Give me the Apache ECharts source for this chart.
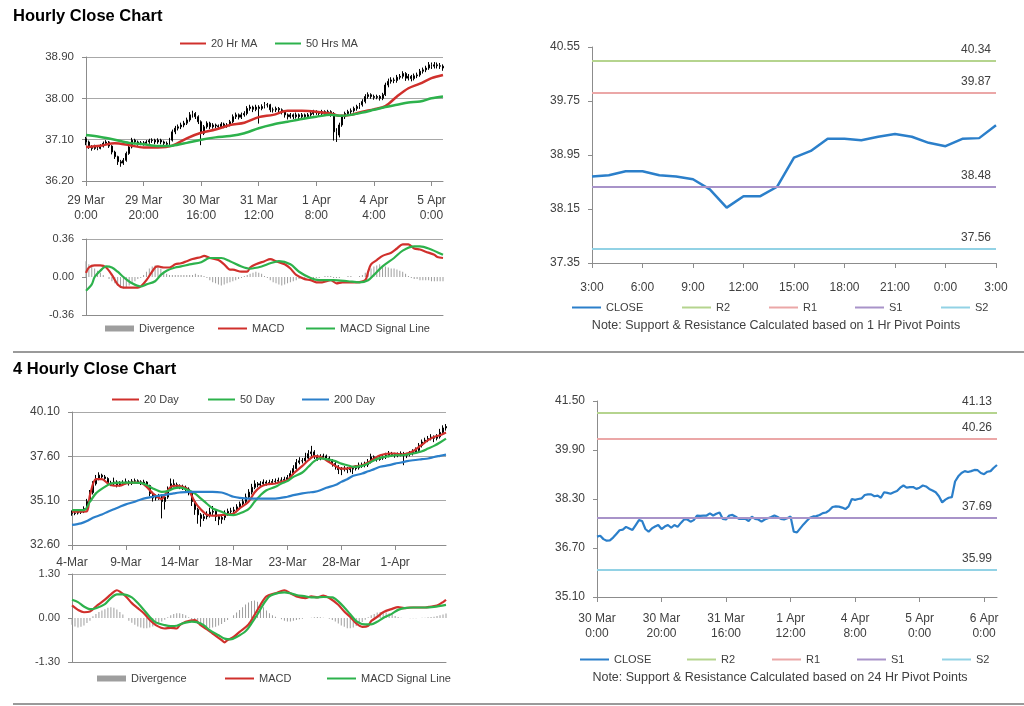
<!DOCTYPE html>
<html>
<head>
<meta charset="utf-8">
<script src="https://cdn.jsdelivr.net/npm/echarts@6.0.0/dist/echarts.min.js"></script>
<style>
html,body{margin:0;padding:0;background:#fff;}
#chart{width:1024px;height:706px;}
</style>
</head>
<body>
<div id="chart"></div>
<script>
// ---------- DATA ----------
// Hourly (top-left) tick labels, one every 20 bars
const h1Ticks = ['29 Mar\n0:00','29 Mar\n20:00','30 Mar\n16:00','31 Mar\n12:00','1 Apr\n8:00','4 Apr\n4:00','5 Apr\n0:00'];
// [open, close, low, high]
const h1Candles = [
[37.12,37.05,36.98,37.16],[37.05,36.94,36.90,37.08],[36.94,36.91,36.86,36.98],[36.91,36.94,36.88,36.99],[36.94,36.91,36.87,36.97],
[36.91,36.96,36.89,37.00],[36.96,37.02,36.93,37.06],[37.02,37.05,36.98,37.09],[37.05,36.96,36.92,37.07],[36.96,36.83,36.78,36.98],
[36.83,36.73,36.68,36.86],[36.73,36.62,36.55,36.75],[36.62,36.59,36.51,36.66],[36.59,36.65,36.55,36.70],[36.65,36.80,36.62,36.84],
[36.80,36.94,36.77,36.98],[36.94,37.09,36.91,37.14],[37.09,37.05,37.00,37.12],[37.05,37.02,36.97,37.08],[37.02,37.03,36.98,37.07],
[37.03,37.02,36.97,37.07],[37.02,37.05,36.99,37.09],[37.05,37.08,37.01,37.12],[37.08,37.09,37.03,37.13],[37.09,37.05,37.00,37.12],
[37.05,37.09,37.01,37.13],[37.09,37.05,37.00,37.12],[37.05,37.02,36.96,37.08],[37.02,37.00,36.95,37.06],[37.00,37.09,36.97,37.14],
[37.09,37.27,37.06,37.32],[37.27,37.35,37.22,37.40],[37.35,37.38,37.30,37.43],[37.38,37.42,37.33,37.47],[37.42,37.46,37.37,37.51],
[37.46,37.53,37.42,37.58],[37.53,37.64,37.49,37.70],[37.64,37.67,37.58,37.73],[37.67,37.60,37.55,37.70],[37.60,37.49,37.44,37.63],
[37.49,37.24,36.98,37.52],[37.24,37.38,37.20,37.42],[37.38,37.46,37.34,37.50],[37.46,37.38,37.33,37.49],[37.38,37.42,37.34,37.46],
[37.42,37.40,37.35,37.45],[37.40,37.38,37.33,37.43],[37.38,37.44,37.35,37.48],[37.44,37.40,37.35,37.47],[37.40,37.42,37.36,37.46],
[37.42,37.49,37.39,37.53],[37.49,37.60,37.46,37.65],[37.60,37.64,37.55,37.69],[37.64,37.59,37.54,37.67],[37.59,37.64,37.55,37.69],
[37.64,37.67,37.60,37.72],[37.67,37.78,37.63,37.83],[37.78,37.81,37.73,37.86],[37.81,37.76,37.70,37.84],[37.76,37.81,37.72,37.86],
[37.81,37.78,37.45,37.85],[37.78,37.82,37.74,37.87],[37.82,37.86,37.78,37.92],[37.86,37.86,37.80,37.90],[37.86,37.75,37.70,37.88],
[37.75,37.75,37.69,37.80],[37.75,37.78,37.70,37.82],[37.78,37.75,37.69,37.81],[37.75,37.71,37.65,37.78],[37.71,37.64,37.58,37.74],
[37.64,37.60,37.54,37.67],[37.60,37.64,37.56,37.68],[37.64,37.60,37.55,37.67],[37.60,37.64,37.56,37.69],[37.64,37.60,37.53,37.67],
[37.60,37.64,37.56,37.68],[37.64,37.60,37.55,37.67],[37.60,37.64,37.56,37.68],[37.64,37.67,37.60,37.71],[37.67,37.71,37.63,37.75],
[37.71,37.69,37.64,37.74],[37.69,37.67,37.62,37.72],[37.67,37.71,37.63,37.75],[37.71,37.67,37.62,37.74],[37.67,37.71,37.63,37.75],
[37.71,37.67,37.60,37.74],[37.67,37.27,37.08,37.70],[37.27,37.20,37.05,37.35],[37.20,37.42,37.15,37.47],[37.42,37.60,37.38,37.64],
[37.60,37.67,37.55,37.71],[37.67,37.71,37.62,37.75],[37.71,37.73,37.66,37.78],[37.73,37.78,37.69,37.82],[37.78,37.82,37.73,37.86],
[37.82,37.86,37.77,37.90],[37.86,37.93,37.82,37.98],[37.93,38.04,37.89,38.09],[38.04,38.08,37.99,38.13],[38.08,38.04,37.99,38.11],
[38.04,38.02,37.97,38.08],[38.02,38.04,37.98,38.08],[38.04,38.00,37.95,38.07],[38.00,38.08,37.96,38.12],[38.08,38.29,38.05,38.34],
[38.29,38.37,38.24,38.43],[38.37,38.40,38.32,38.46],[38.40,38.39,38.33,38.45],[38.39,38.46,38.34,38.51],[38.46,38.48,38.41,38.53],
[38.48,38.54,38.43,38.59],[38.54,38.44,38.38,38.57],[38.44,38.48,38.39,38.53],[38.48,38.43,38.37,38.51],[38.43,38.49,38.39,38.54],
[38.49,38.51,38.44,38.56],[38.51,38.59,38.47,38.64],[38.59,38.62,38.54,38.67],[38.62,38.66,38.57,38.71],[38.66,38.73,38.62,38.79],
[38.73,38.70,38.64,38.78],[38.70,38.73,38.65,38.79],[38.73,38.71,38.65,38.78],[38.71,38.70,38.64,38.77],[38.70,38.66,38.60,38.74]
];
// [bar index, value]
const h1Ma20 = [[0,36.94],[5,36.97],[10,37.02],[15,36.98],[20,36.93],[25,36.93],[30,36.97],[35,37.13],[40,37.25],[45,37.32],[50,37.42],[55,37.47],[60,37.59],[65,37.64],[70,37.73],[75,37.73],[80,37.71],[85,37.67],[88,37.62],[92,37.64],[96,37.71],[100,37.76],[104,37.83],[108,38.04],[112,38.22],[116,38.32],[120,38.44],[124,38.51]];
const h1Ma50 = [[0,37.20],[5,37.16],[10,37.10],[15,37.03],[20,37.00],[25,36.96],[30,36.97],[35,37.03],[40,37.10],[45,37.15],[50,37.18],[55,37.24],[60,37.35],[65,37.43],[70,37.49],[75,37.55],[80,37.60],[85,37.64],[88,37.62],[92,37.64],[96,37.69],[100,37.75],[104,37.81],[108,37.86],[112,37.91],[116,37.93],[120,38.00],[124,38.04]];
const h1Macd = [[0,0.04],[1,0.09],[3,0.11],[5,0.11],[7,0.09],[9,0.02],[11,-0.07],[13,-0.10],[15,-0.10],[18,-0.10],[19,-0.09],[21,-0.03],[24,0.09],[25,0.10],[27,0.09],[29,0.09],[31,0.12],[33,0.13],[35,0.15],[37,0.17],[40,0.19],[41,0.20],[43,0.18],[46,0.16],[48,0.12],[50,0.07],[51,0.07],[54,0.05],[56,0.05],[57,0.09],[59,0.12],[62,0.15],[64,0.17],[66,0.15],[69,0.12],[71,0.08],[73,0.02],[76,-0.02],[78,-0.03],[80,-0.05],[82,-0.05],[85,-0.03],[87,-0.06],[89,-0.05],[92,-0.05],[94,-0.05],[97,-0.03],[98,0.05],[99,0.12],[101,0.16],[103,0.20],[106,0.23],[108,0.27],[110,0.31],[112,0.31],[114,0.27],[116,0.26],[118,0.24],[121,0.21],[122,0.19],[124,0.18]];
const h1Signal = [[0,-0.13],[2,-0.07],[3,0.00],[5,0.06],[7,0.10],[9,0.09],[11,0.05],[13,0.00],[16,-0.06],[19,-0.09],[21,-0.07],[24,-0.04],[26,0.02],[28,0.06],[31,0.09],[33,0.10],[36,0.12],[40,0.14],[43,0.18],[47,0.18],[50,0.15],[54,0.10],[57,0.08],[61,0.10],[64,0.13],[67,0.15],[71,0.12],[74,0.05],[78,-0.01],[81,-0.03],[86,-0.03],[91,-0.04],[95,-0.05],[98,-0.03],[100,0.02],[103,0.10],[107,0.18],[110,0.25],[114,0.29],[116,0.29],[119,0.27],[124,0.21]];
const h1Div = [
0.15,0.12,0.10,0.08,0.06, 0.04,0.02,0.00,-0.02,-0.04, -0.06,-0.08,-0.10,-0.11,-0.10, -0.08,-0.06,-0.04,-0.02,-0.01,
0.02,0.05,0.08,0.10,0.11, 0.10,0.08,0.05,0.03,0.02, 0.02,0.02,0.02,0.02,0.02, 0.02,0.02,0.02,0.03,0.02,
0.02,0.01,-0.01,-0.03,-0.05, -0.06,-0.07,-0.08,-0.07,-0.06, -0.05,-0.04,-0.03,-0.02,-0.01, 0.01,0.02,0.03,0.04,0.05,
0.04,0.03,0.01,-0.01,-0.03, -0.05,-0.06,-0.07,-0.08,-0.07, -0.06,-0.05,-0.04,-0.03,-0.02, -0.01,-0.01,0.00,0.00,-0.01,
-0.01,-0.01,0.00,0.01,0.01, 0.01,-0.01,-0.01,-0.01,0.00, 0.00,0.01,0.01,0.00,0.00, 0.01,0.02,0.04,0.06,0.08,
0.10,0.11,0.12,0.11,0.10, 0.09,0.08,0.08,0.07,0.06, 0.05,0.03,0.01,-0.01,-0.02, -0.02,-0.03,-0.03,-0.03,-0.03,
-0.04,-0.04,-0.04,-0.04,-0.04
];

// Hourly pivot chart (top-right)
const h1Hours = ['3:00','4:00','5:00','6:00','7:00','8:00','9:00','10:00','11:00','12:00','13:00','14:00','15:00','16:00','17:00','18:00','19:00','20:00','21:00','22:00','23:00','0:00','1:00','2:00','3:00'];
const h1Close = [38.63,38.65,38.71,38.71,38.65,38.63,38.59,38.44,38.17,38.34,38.34,38.48,38.91,39.01,39.19,39.19,39.17,39.22,39.26,39.22,39.13,39.08,39.19,39.20,39.39];
const levelNames = ['R2','R1','S1','S2'];
const h1Levels = [40.34, 39.87, 38.48, 37.56];

// 4-hourly (bottom-left) tick labels, one every 18 bars
const h4Ticks = ['4-Mar','9-Mar','14-Mar','18-Mar','23-Mar','28-Mar','1-Apr'];
const h4Candles = [
[34.45,34.38,34.25,34.55],[34.38,34.40,34.28,34.52],[34.40,34.45,34.32,34.55],[34.45,34.48,34.35,34.58],[34.48,34.65,34.40,34.78],
[34.65,35.05,34.60,35.20],[35.05,35.55,34.98,35.70],[35.55,36.05,35.45,36.20],[36.05,36.35,35.95,36.55],[36.35,36.54,36.25,36.70],
[36.54,36.44,36.30,36.62],[36.44,36.35,36.20,36.55],[36.35,36.10,35.98,36.42],[36.10,36.05,35.92,36.22],[36.05,36.15,35.95,36.40],
[36.15,35.98,35.85,36.25],[35.98,36.07,35.90,36.20],[36.07,36.12,35.98,36.25],[36.12,36.16,36.02,36.35],[36.16,36.07,35.95,36.25],
[36.07,36.20,35.98,36.32],[36.20,36.22,36.08,36.35],[36.22,36.16,36.05,36.30],[36.16,36.10,35.98,36.25],[36.10,36.15,36.00,36.28],
[36.15,35.95,35.82,36.20],[35.95,35.50,35.35,36.00],[35.50,35.25,35.05,35.60],[35.25,35.30,35.10,35.45],[35.30,35.32,35.15,35.48],
[35.32,35.05,34.10,35.40],[35.05,35.30,34.60,35.45],[35.30,35.75,35.20,35.90],[35.75,36.05,35.65,36.35],[36.05,36.00,35.85,36.30],
[36.00,35.90,35.78,36.12],[35.90,35.88,35.75,36.02],[35.88,35.85,35.70,36.00],[35.85,35.75,35.60,35.95],[35.75,35.55,35.40,35.85],
[35.55,35.05,34.80,35.62],[35.05,34.60,34.30,35.15],[34.60,34.30,33.80,34.70],[34.30,34.10,33.63,34.40],[34.10,34.20,33.95,34.35],
[34.20,34.30,34.05,34.50],[34.30,34.45,34.15,34.70],[34.45,34.50,34.30,34.80],[34.50,34.20,33.95,34.60],[34.20,34.05,33.72,34.30],
[34.05,34.15,33.80,34.30],[34.15,34.40,34.00,34.55],[34.40,34.50,34.25,34.65],[34.50,34.52,34.35,34.70],[34.52,34.58,34.40,34.75],
[34.58,34.75,34.45,34.90],[34.75,34.92,34.60,35.05],[34.92,35.05,34.80,35.25],[35.05,35.30,34.95,35.50],[35.30,35.58,35.20,35.75],
[35.58,35.85,35.45,36.05],[35.85,36.05,35.75,36.25],[36.05,35.98,35.85,36.15],[35.98,36.05,35.88,36.20],[36.05,36.15,35.95,36.30],
[36.15,36.08,35.95,36.25],[36.08,36.12,35.98,36.28],[36.12,36.18,36.02,36.32],[36.18,36.20,36.05,36.35],[36.20,36.25,36.10,36.40],
[36.25,36.26,36.12,36.42],[36.26,36.30,36.15,36.45],[36.30,36.40,36.20,36.55],[36.40,36.63,36.30,36.80],[36.63,36.91,36.55,37.10],
[36.91,37.25,36.85,37.45],[37.25,37.35,37.15,37.55],[37.35,37.35,37.20,37.50],[37.35,37.50,37.25,37.80],[37.50,37.75,37.40,37.95],
[37.75,37.85,37.60,38.19],[37.85,37.62,37.45,37.95],[37.62,37.48,37.35,37.70],[37.48,37.55,37.38,37.72],[37.55,37.62,37.45,37.75],
[37.62,37.50,37.35,37.70],[37.50,37.38,37.22,37.60],[37.38,37.19,37.02,37.45],[37.19,37.05,36.85,37.30],[37.05,36.85,36.60,37.10],
[36.85,36.88,36.54,37.00],[36.88,36.92,36.75,37.05],[36.92,36.85,36.65,37.00],[36.85,36.88,36.70,37.02],[36.88,36.91,36.60,37.05],
[36.91,36.95,36.80,37.10],[36.95,37.10,36.85,37.25],[37.10,37.10,36.95,37.25],[37.10,37.12,36.98,37.30],[37.12,37.29,37.00,37.45],
[37.29,37.57,37.20,37.75],[37.57,37.45,37.32,37.65],[37.45,37.42,37.30,37.60],[37.42,37.50,37.35,37.65],[37.50,37.57,37.40,37.72],
[37.57,37.66,37.45,37.80],[37.66,37.76,37.55,37.90],[37.76,37.70,37.58,37.85],[37.70,37.66,37.52,37.80],[37.66,37.70,37.55,37.82],
[37.70,37.76,37.60,37.88],[37.76,37.66,37.10,37.85],[37.66,37.70,37.50,37.80],[37.70,37.76,37.60,37.90],[37.76,37.85,37.65,38.00],
[37.85,37.94,37.75,38.10],[37.94,38.22,37.85,38.35],[38.22,38.41,38.10,38.55],[38.41,38.51,38.30,38.65],[38.51,38.60,38.40,38.75],
[38.60,38.69,38.50,38.85],[38.69,38.62,38.40,38.78],[38.62,38.70,38.50,38.85],[38.70,38.95,38.60,39.15],[38.95,39.20,38.85,39.35],
[39.20,39.28,39.05,39.42]
];
const h4Ma20 = [[0,34.48],[3,34.48],[5,34.50],[6,35.41],[8,36.31],[10,36.31],[12,36.07],[14,35.94],[16,35.94],[18,36.07],[21,36.12],[23,36.10],[25,35.88],[27,35.51],[30,35.19],[31,35.41],[33,35.88],[35,35.94],[37,35.88],[39,35.69],[41,35.04],[43,34.62],[45,34.32],[47,34.25],[50,34.29],[52,34.32],[54,34.38],[56,34.66],[59,35.04],[61,35.56],[63,35.88],[65,36.01],[68,36.07],[70,36.16],[72,36.26],[74,36.63],[77,37.06],[79,37.38],[81,37.61],[83,37.57],[85,37.38],[88,37.06],[90,36.91],[92,36.91],[94,37.01],[97,37.10],[99,37.25],[101,37.48],[103,37.66],[106,37.76],[108,37.76],[110,37.70],[112,37.76],[114,37.89],[117,38.26],[119,38.51],[121,38.69],[123,38.79],[125,38.94]];
const h4Ma50 = [[0,34.57],[4,34.57],[6,35.04],[8,35.51],[11,35.88],[13,36.07],[16,36.12],[20,36.12],[23,36.10],[25,35.98],[27,35.79],[30,35.60],[32,35.64],[34,35.79],[36,35.83],[38,35.75],[41,35.51],[43,35.23],[45,34.94],[47,34.66],[50,34.48],[52,34.32],[54,34.29],[56,34.38],[59,34.62],[61,35.04],[63,35.41],[65,35.69],[68,35.88],[70,36.07],[72,36.20],[74,36.44],[77,36.69],[79,37.01],[81,37.33],[83,37.48],[85,37.44],[88,37.33],[90,37.19],[92,37.10],[94,37.01],[97,37.06],[99,37.19],[101,37.38],[103,37.51],[106,37.61],[108,37.66],[110,37.66],[112,37.70],[114,37.76],[117,37.89],[119,38.04],[121,38.19],[123,38.38],[125,38.60]];
const h4Ma200 = [[0,33.73],[3,33.82],[5,33.95],[7,34.14],[10,34.32],[12,34.48],[14,34.62],[16,34.76],[18,34.89],[21,35.04],[23,35.17],[25,35.26],[27,35.32],[30,35.41],[32,35.45],[34,35.51],[36,35.56],[39,35.60],[43,35.60],[47,35.60],[50,35.56],[52,35.45],[54,35.32],[56,35.26],[59,35.22],[63,35.22],[68,35.22],[72,35.32],[74,35.41],[77,35.51],[79,35.56],[81,35.60],[83,35.69],[85,35.83],[88,35.98],[90,36.16],[92,36.31],[94,36.50],[97,36.63],[99,36.76],[101,36.88],[103,37.01],[106,37.10],[108,37.19],[110,37.25],[112,37.33],[114,37.38],[117,37.44],[119,37.48],[121,37.56],[123,37.63],[125,37.70]];
const h4Macd = [[0,0.37],[2,0.24],[4,0.17],[6,0.19],[8,0.34],[11,0.54],[13,0.70],[15,0.82],[16,0.78],[18,0.64],[20,0.44],[22,0.29],[24,0.14],[26,-0.06],[28,-0.21],[31,-0.31],[33,-0.29],[35,-0.31],[36,-0.21],[38,-0.11],[41,-0.06],[43,-0.21],[45,-0.33],[47,-0.46],[50,-0.65],[51,-0.72],[52,-0.65],[54,-0.56],[56,-0.41],[59,-0.19],[61,0.09],[63,0.39],[65,0.64],[68,0.73],[70,0.80],[71,0.82],[73,0.73],[75,0.64],[78,0.59],[80,0.64],[82,0.61],[84,0.66],[86,0.59],[89,0.39],[91,0.19],[93,0.03],[95,-0.16],[97,-0.26],[99,-0.23],[100,-0.09],[102,0.03],[104,0.17],[107,0.27],[109,0.32],[111,0.29],[113,0.31],[115,0.31],[118,0.31],[120,0.34],[122,0.37],[124,0.47],[125,0.54]];
const h4Signal = [[0,0.54],[2,0.47],[4,0.34],[6,0.26],[8,0.29],[11,0.41],[13,0.59],[15,0.70],[17,0.70],[20,0.61],[22,0.44],[24,0.24],[26,0.03],[28,-0.13],[31,-0.21],[33,-0.24],[35,-0.23],[37,-0.16],[40,-0.11],[42,-0.13],[44,-0.21],[46,-0.36],[49,-0.51],[51,-0.61],[53,-0.63],[55,-0.56],[58,-0.39],[60,-0.16],[62,0.11],[64,0.41],[66,0.64],[69,0.74],[71,0.76],[73,0.73],[75,0.68],[78,0.64],[80,0.61],[82,0.61],[84,0.62],[87,0.61],[89,0.49],[91,0.31],[93,0.11],[95,-0.09],[98,-0.19],[100,-0.19],[102,-0.11],[104,0.00],[107,0.13],[109,0.24],[111,0.29],[114,0.31],[118,0.31],[121,0.33],[125,0.39]];
const h4Div = [
-0.20,-0.25,-0.28,-0.26,-0.22,-0.15,-0.08,
0.05,0.12,0.18,0.22,0.26,0.30,
0.32,0.30,0.25,0.18,0.10,
0.00,-0.08,-0.14,-0.20,-0.25,-0.28,-0.30,-0.30,-0.28,-0.25,-0.20,-0.15,-0.10,
-0.05,0.02,0.08,0.12,0.14,0.14,0.12,0.08,0.02,-0.05,
-0.12,-0.18,-0.22,-0.26,-0.28,-0.30,-0.28,-0.26,-0.22,-0.18,-0.12,-0.06,0.00,
0.08,0.16,0.24,0.32,0.40,0.46,0.50,0.52,0.48,0.40,0.32,0.22,0.14,0.08,0.04,
0.00,-0.04,-0.08,-0.10,-0.10,-0.08,-0.06,-0.04,-0.02,0.00,
0.00,0.01,0.02,0.03,0.02,0.01,0.00,-0.02,
-0.06,-0.10,-0.16,-0.22,-0.26,-0.30,-0.30,-0.28,-0.24,-0.18,-0.12,-0.05,
0.02,0.08,0.12,0.16,0.18,0.18,0.16,0.14,0.10,0.06,0.03,0.01,
0.00,0.00,-0.01,-0.01,-0.01,0.00,0.01,0.01,0.02,0.03,0.04,0.06,0.08,0.10,0.13
];

// 24-hr pivot chart (bottom-right), tick labels every 20 points
const h24Ticks = ['30 Mar\n0:00','30 Mar\n20:00','31 Mar\n16:00','1 Apr\n12:00','4 Apr\n8:00','5 Apr\n0:00','6 Apr\n0:00'];
const h24Close = [
37.07,37.10,36.99,36.94,36.95,37.04,37.16,37.28,37.30,37.39,
37.34,37.29,37.45,37.61,37.58,37.32,37.23,37.34,37.40,37.45,
37.32,37.40,37.45,37.36,37.45,37.39,37.52,37.63,37.63,37.56,
37.61,37.76,37.75,37.76,37.76,37.83,37.76,37.82,37.86,37.65,
37.63,37.76,37.78,37.72,37.65,37.65,37.65,37.58,37.72,37.65,
37.63,37.56,37.63,37.67,37.71,37.76,37.71,37.65,37.63,37.67,
37.73,37.23,37.21,37.34,37.47,37.58,37.69,37.73,37.74,37.78,
37.84,37.86,37.93,38.04,38.06,38.05,38.02,37.97,38.06,38.30,
38.27,38.30,38.32,38.43,38.45,38.45,38.39,38.41,38.34,38.52,
38.50,38.47,38.52,38.56,38.67,38.74,38.67,38.69,38.69,38.63,
38.67,38.74,38.71,38.63,38.58,38.52,38.39,38.19,38.28,38.34,
38.36,38.87,39.04,39.15,39.21,39.18,39.21,39.25,39.24,39.15,
39.11,39.19,39.21,39.32,39.41
];
const h24Levels = [41.13, 40.26, 37.69, 35.99];

// ---------- STYLE ----------
const FONT = "'Liberation Sans', Arial, sans-serif";
const TXT = '#404040';
const AXC = '#8c8c8c';
const SPLIT = '#a8a8a8';
const RED = '#d0302c', GREEN = '#2db24c', BLUE = '#2b7fca', DIVC = '#9e9e9e';
const levelColors = ['#b5d48e', '#eba7a7', '#a893c9', '#92d2e5'];

const idx = n => Array.from({length: n}, (_, i) => i);

function catAxis(grid, n, opt) {
  return Object.assign({
    type: 'category', gridIndex: grid, data: idx(n), boundaryGap: false,
    axisLine: {show: true, onZero: false, lineStyle: {color: AXC, width: 1}},
    axisTick: {show: false}, axisLabel: {show: false}, splitLine: {show: false}
  }, opt);
}
function tickLabels(step, labels, size, margin) {
  return {
    axisTick: {show: true, interval: step - 1, length: 5, lineStyle: {color: AXC}},
    axisLabel: {show: true, interval: step - 1, color: TXT, fontSize: size, fontFamily: FONT,
      margin: margin, lineHeight: size + 3,
      formatter: (v, i) => labels(i)}
  };
}
function valAxis(grid, min, max, interval, size, split) {
  return {
    type: 'value', gridIndex: grid, min: min, max: max, interval: interval,
    axisLine: {show: true, lineStyle: {color: AXC, width: 1}},
    axisTick: {show: true, length: 4, lineStyle: {color: AXC}},
    axisLabel: {color: TXT, fontSize: size, fontFamily: FONT, margin: 12, formatter: v => v.toFixed(2)},
    splitLine: split ? {show: true, lineStyle: {color: split, width: 1}} : {show: false}
  };
}
function lineSeries(name, x, y, data, color, width, smooth) {
  return {name: name, type: 'line', xAxisIndex: x, yAxisIndex: y, data: data, symbol: 'none',
    smooth: smooth, color: color, lineStyle: {color: color, width: width}, silent: true};
}
function candles(x, y, data) {
  return {type: 'candlestick', xAxisIndex: x, yAxisIndex: y, data: data, barMaxWidth: 3, silent: true,
    itemStyle: {color: '#000', color0: '#000', borderColor: '#000', borderColor0: '#000', borderWidth: 1}};
}
function divSeries(x, y, data) {
  return {name: 'Divergence', type: 'bar', xAxisIndex: x, yAxisIndex: y, data: data, barWidth: 1,
    color: DIVC, itemStyle: {color: DIVC}, silent: true};
}
function levelSeries(x, y, values) {
  return levelNames.map((nm, k) => ({
    name: nm, type: 'line', xAxisIndex: x, yAxisIndex: y, data: [], symbol: 'none',
    color: levelColors[k], lineStyle: {color: levelColors[k], width: 2},
    markLine: {
      silent: true, symbol: 'none', animation: false,
      lineStyle: {color: levelColors[k], width: 2, type: 'solid'},
      label: {show: true, position: 'insideEndTop', color: TXT, fontSize: 12, fontFamily: FONT,
        formatter: p => Number(p.value).toFixed(2)},
      data: [{yAxis: values[k]}]
    }
  }));
}
// one legend component per item, so each item sits where the reference puts it
function legendItem(name, left, cy, iw, ih) {
  return {left: left, top: cy - 5, padding: 0, itemWidth: iw, itemHeight: ih, itemGap: 0,
    textStyle: {color: TXT, fontSize: 11, fontFamily: FONT}, selectedMode: false,
    data: [{name: name, icon: 'rect'}]};
}
function legendRow(names, lefts, cy, iw) {
  return names.map((n, k) => legendItem(n, lefts[k], cy, iw, n === 'Divergence' ? 6 : 2));
}
function text(x, y, str, size, bold, align) {
  return {type: 'text', x: x, y: y, style: {text: str, fill: bold ? '#000' : TXT,
    font: (bold ? 'bold ' : '') + size + 'px ' + FONT, textAlign: align || 'left', textVerticalAlign: 'middle'}};
}

const option = {
  animation: false,
  backgroundColor: '#fff',
  grid: [
    {left: 86, top: 57, width: 357, height: 124},
    {left: 86, top: 239, width: 357, height: 76},
    {left: 592, top: 47, width: 404, height: 216},
    {left: 72, top: 412, width: 374, height: 133},
    {left: 72, top: 574, width: 374, height: 88},
    {left: 597, top: 401, width: 400, height: 196}
  ],
  xAxis: [
    catAxis(0, h1Candles.length, tickLabels(20, i => h1Ticks[i / 20], 12, 12)),
    catAxis(1, h1Candles.length, {}),
    catAxis(2, h1Hours.length, tickLabels(3, i => h1Hours[i], 12, 17)),
    catAxis(3, h4Candles.length, tickLabels(18, i => h4Ticks[i / 18], 12, 10)),
    catAxis(4, h4Candles.length, {}),
    catAxis(5, h24Close.length, tickLabels(20, i => h24Ticks[i / 20], 12, 14))
  ],
  yAxis: [
    valAxis(0, 36.2, 38.9, 0.9, 11.5, SPLIT),
    Object.assign(valAxis(1, -0.36, 0.36, 0.36, 11, null),
      {splitLine: {show: true, lineStyle: {color: [SPLIT, 'rgba(0,0,0,0)', SPLIT], width: 1}}}),
    valAxis(2, 37.35, 40.55, 0.8, 12, null),
    valAxis(3, 32.6, 40.1, 2.5, 12, SPLIT),
    Object.assign(valAxis(4, -1.3, 1.3, 1.3, 11, null),
      {splitLine: {show: true, lineStyle: {color: [SPLIT, 'rgba(0,0,0,0)', SPLIT], width: 1}}}),
    valAxis(5, 35.1, 41.5, 1.6, 12, null)
  ],
  legend: [
    ...legendRow(['20 Hr MA', '50 Hrs MA'], [180, 275], 43, 26),
    ...legendRow(['Divergence', 'MACD', 'MACD Signal Line'], [105, 218, 306], 328, 29),
    ...legendRow(['CLOSE', 'R2', 'R1', 'S1', 'S2'], [572, 682, 769, 855, 941], 307, 29),
    ...legendRow(['20 Day', '50 Day', '200 Day'], [112, 208, 302], 399, 27),
    ...legendRow(['Divergence', 'MACD', 'MACD Signal Line'], [97, 225, 327], 678, 29),
    ...legendRow(['CLOSE', 'R2', 'R1', 'S1', 'S2'], [580, 687, 772, 857, 942], 659, 29)
  ],
  graphic: [
    text(13, 16, 'Hourly Close Chart', 16.5, true),
    text(13, 369, '4 Hourly Close Chart', 16.5, true),
    text(776, 326, 'Note: Support & Resistance Calculated based on 1 Hr Pivot Points', 12.5, false, 'center'),
    text(780, 678, 'Note: Support & Resistance Calculated based on 24 Hr Pivot Points', 12.5, false, 'center'),
    {type: 'line', shape: {x1: 13, y1: 352, x2: 1024, y2: 352}, style: {stroke: '#9a9a9a', lineWidth: 2}},
    {type: 'line', shape: {x1: 13, y1: 704, x2: 1024, y2: 704}, style: {stroke: '#9a9a9a', lineWidth: 2}}
  ],
  series: [
    candles(0, 0, h1Candles),
    lineSeries('20 Hr MA', 0, 0, h1Ma20, RED, 2.5, 0.3),
    lineSeries('50 Hrs MA', 0, 0, h1Ma50, GREEN, 2.5, 0.3),
    divSeries(1, 1, h1Div),
    lineSeries('MACD', 1, 1, h1Macd, RED, 2.2, 0.3),
    lineSeries('MACD Signal Line', 1, 1, h1Signal, GREEN, 2.2, 0.3),
    lineSeries('CLOSE', 2, 2, h1Close, BLUE, 2.5, false),
    ...levelSeries(2, 2, h1Levels),
    candles(3, 3, h4Candles),
    lineSeries('20 Day', 3, 3, h4Ma20, RED, 2.2, 0.3),
    lineSeries('50 Day', 3, 3, h4Ma50, GREEN, 2.2, 0.3),
    lineSeries('200 Day', 3, 3, h4Ma200, BLUE, 2.2, 0.3),
    divSeries(4, 4, h4Div),
    lineSeries('MACD', 4, 4, h4Macd, RED, 2.2, 0.3),
    lineSeries('MACD Signal Line', 4, 4, h4Signal, GREEN, 2.2, 0.3),
    lineSeries('CLOSE', 5, 5, h24Close, BLUE, 2.2, false),
    ...levelSeries(5, 5, h24Levels)
  ]
};

const chart = echarts.init(document.getElementById('chart'), null, {renderer: 'canvas'});
chart.setOption(option);
</script>
</body>
</html>
